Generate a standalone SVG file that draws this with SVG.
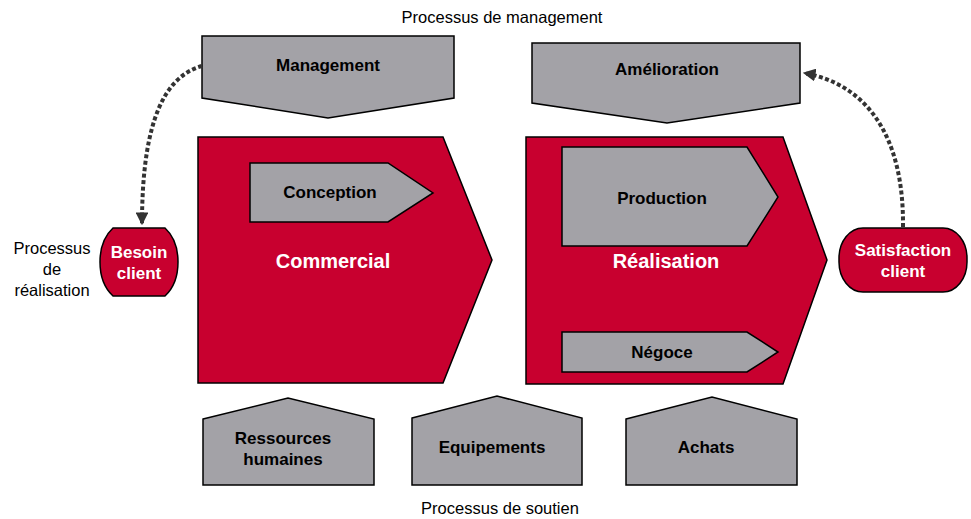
<svg xmlns="http://www.w3.org/2000/svg" width="971" height="519" viewBox="0 0 971 519">
<defs>
<style>
.red{fill:#C8002F;stroke:#000;stroke-width:1.5;stroke-linejoin:miter}
.gray{fill:#A3A2A7;stroke:#000;stroke-width:1.5;stroke-linejoin:miter}
.lbl{font-family:"Liberation Sans",Arial,Helvetica,sans-serif;font-weight:bold;font-size:17px;fill:#000;text-anchor:middle}
.wlbl{font-family:"Liberation Sans",Arial,Helvetica,sans-serif;font-weight:bold;font-size:17px;fill:#fff;text-anchor:middle}
.big{font-family:"Liberation Sans",Arial,Helvetica,sans-serif;font-weight:bold;font-size:20px;fill:#fff;text-anchor:middle}
.plain{font-family:"Liberation Sans",Arial,Helvetica,sans-serif;font-size:16.5px;fill:#000;text-anchor:middle}
.conn{fill:none;stroke:#333;stroke-width:4;stroke-dasharray:4 2.5}
</style>
<marker id="ah" viewBox="0 0 10 10" refX="9" refY="5" markerWidth="3.2" markerHeight="3.2" orient="auto" markerUnits="strokeWidth">
<path d="M0,0 L10,5 L0,10 Z" fill="#333"/>
</marker>
</defs>
<rect width="971" height="519" fill="#fff"/>
<text class="plain" x="502" y="23">Processus de management</text>
<text class="plain" x="500" y="514">Processus de soutien</text>
<g id="label-realisation">
<text class="plain" x="52" y="254">Processus</text>
<text class="plain" x="52" y="275">de</text>
<text class="plain" x="52" y="296">réalisation</text>
</g>
<g id="management">
<polygon class="gray" points="202,36 454,36 454,98 328,118 202,98"/>
<text class="lbl" x="328" y="71">Management</text>
</g>
<g id="amelioration">
<polygon class="gray" points="532,43 800,43 800,103 667,123 532,103"/>
<text class="lbl" x="667" y="75">Amélioration</text>
</g>
<g id="commercial">
<polygon class="red" points="198,137 443,137 492,260 443,383 198,383"/>
<text class="big" x="333" y="268">Commercial</text>
</g>
<g id="conception">
<polygon class="gray" points="250,163 388,163 433,193 388,222 250,222"/>
<text class="lbl" x="330" y="198">Conception</text>
</g>
<g id="realisation">
<polygon class="red" points="526,137 783,137 827,260 783,384 526,384"/>
<text class="big" x="666" y="268">Réalisation</text>
</g>
<g id="production">
<polygon class="gray" points="562,147 747,147 778,197 747,246 562,246"/>
<text class="lbl" x="662" y="204">Production</text>
</g>
<g id="negoce">
<polygon class="gray" points="562,332 747,332 778,352 747,372 562,372"/>
<text class="lbl" x="662" y="358">Négoce</text>
</g>
<g id="besoin-client">
<path class="red" d="M113,228 H165 Q178,240 178,262 Q178,284 165,296 H113 Q100,284 100,262 Q100,240 113,228 Z"/>
<text class="wlbl" x="139" y="258">Besoin</text>
<text class="wlbl" x="139" y="279">client</text>
</g>
<g id="satisfaction-client">
<rect class="red" x="839" y="228" width="128" height="64" rx="24" ry="30"/>
<text class="wlbl" x="903" y="256">Satisfaction</text>
<text class="wlbl" x="903" y="277">client</text>
</g>
<g id="ressources-humaines">
<polygon class="gray" points="203,419 288,398 374,419 374,485 203,485"/>
<text class="lbl" x="283" y="444">Ressources</text>
<text class="lbl" x="283" y="465">humaines</text>
</g>
<g id="equipements">
<polygon class="gray" points="412,418 497,396 582,418 582,485 412,485"/>
<text class="lbl" x="492" y="453">Equipements</text>
</g>
<g id="achats">
<polygon class="gray" points="626,419 712,397 797,419 797,485 626,485"/>
<text class="lbl" x="706" y="453">Achats</text>
</g>
<g id="connectors">
<path class="conn" d="M202,66 C166,76 142,118 142,224" marker-end="url(#ah)"/>
<path class="conn" d="M903,227 C904,135 866,84 804,73" marker-end="url(#ah)"/>
</g>
</svg>
